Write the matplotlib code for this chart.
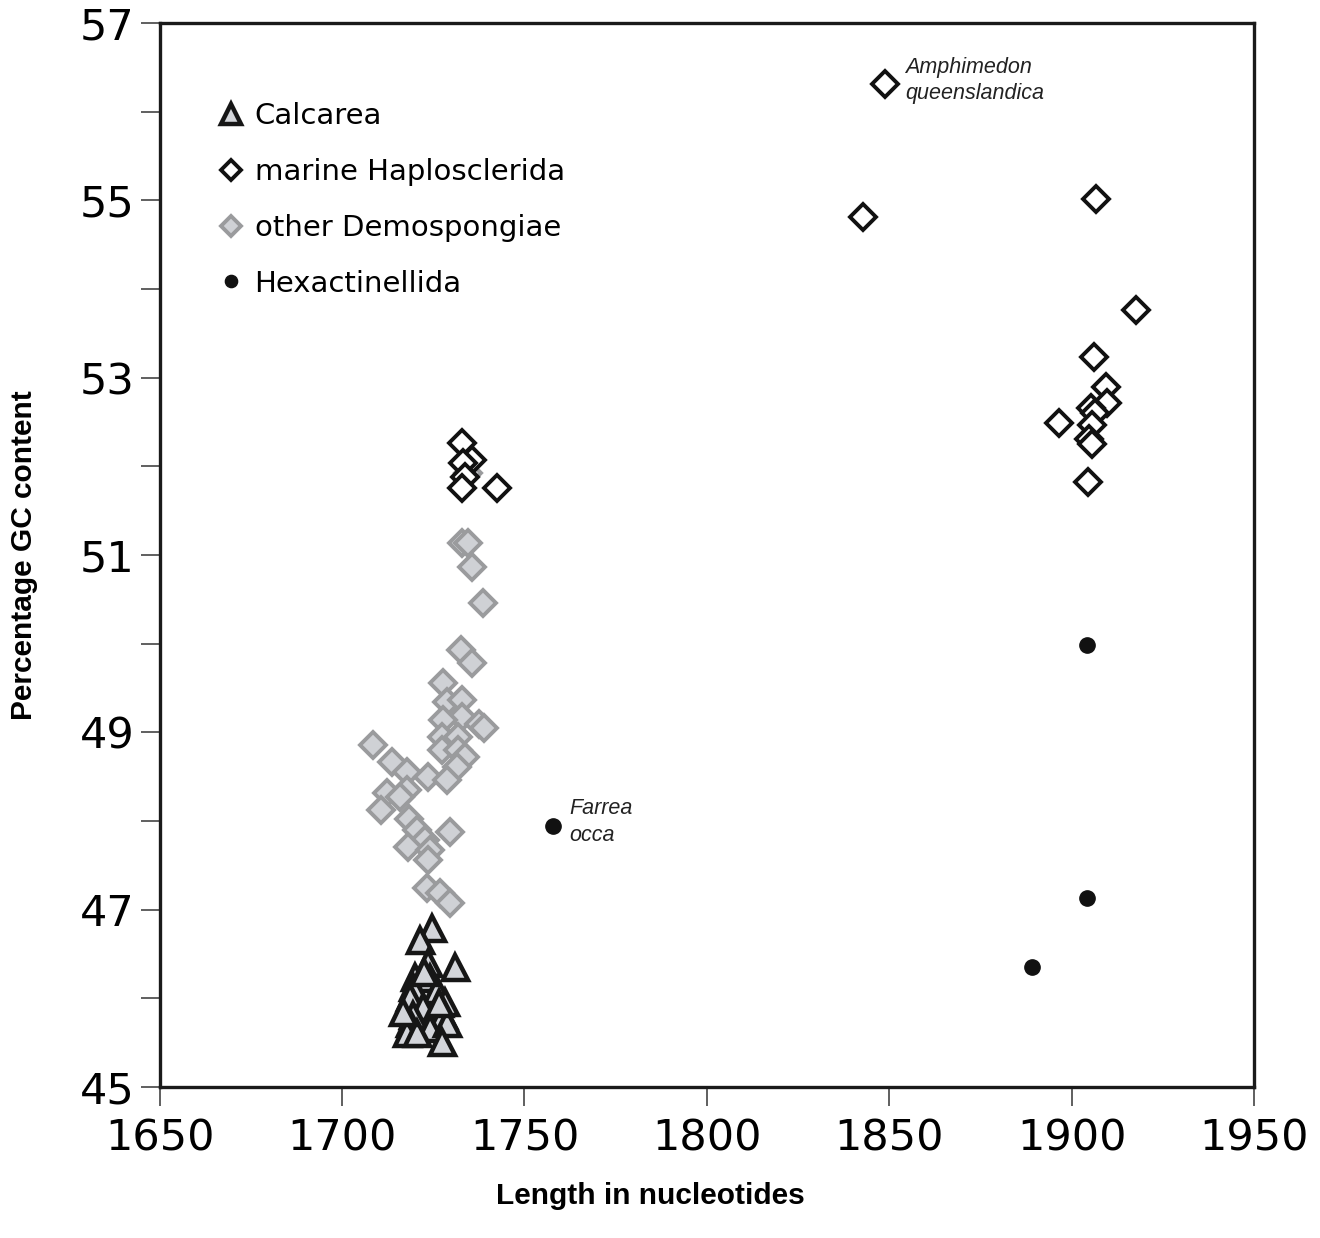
import matplotlib.pyplot as plt
import numpy as np

# Calcarea (triangles)
calc_x = [1724.6, 1721.3, 1730.9, 1723.5, 1720.0, 1724.0, 1719.4, 1726.0, 1718.6, 1728.1,
          1722.1, 1719.5, 1727.6, 1718.6, 1724.0, 1728.7, 1717.7, 1720.5, 1727.3, 1722.5,
          1716.8, 1726.5]
calc_y = [46.79, 46.66, 46.35, 46.40, 46.24, 46.23, 46.13, 46.09, 46.01, 45.96,
          45.90, 45.81, 45.81, 45.72, 45.67, 45.72, 45.61, 45.61, 45.51, 46.30,
          45.85, 45.95]

# marine Haplosclerida (open black diamonds)
hap_x = [1848.8, 1842.8, 1906.6, 1917.6, 1906.1, 1909.4, 1909.7, 1905.3, 1906.5, 1896.5,
         1905.5, 1904.8, 1905.5, 1904.5,
         1732.8, 1735.6, 1733.1, 1733.6, 1732.8, 1742.4]
hap_y = [56.31, 54.81, 55.01, 53.76, 53.23, 52.89, 52.71, 52.66, 52.60, 52.49,
         52.47, 52.31, 52.25, 51.82,
         52.26, 52.07, 52.04, 51.88, 51.76, 51.76]

# other Demospongiae (grey diamonds)
dem_x = [1734.5, 1732.8, 1734.5, 1735.6, 1738.6, 1732.5, 1735.6, 1727.6, 1728.7, 1732.8,
         1732.8, 1727.6, 1737.5, 1739.0, 1727.3, 1731.7, 1727.3, 1731.7, 1733.6, 1731.4,
         1708.4, 1713.6, 1717.7, 1723.5, 1728.7, 1717.7, 1712.2, 1715.8, 1710.6, 1718.3,
         1720.5, 1729.5, 1722.7, 1718.1, 1724.0, 1723.5, 1723.2, 1726.8, 1729.5]
dem_y = [51.92, 51.13, 51.13, 50.86, 50.46, 49.93, 49.78, 49.56, 49.34, 49.36,
         49.17, 49.14, 49.09, 49.05, 48.95, 48.95, 48.80, 48.80, 48.72, 48.61,
         48.86, 48.67, 48.55, 48.50, 48.46, 48.35, 48.32, 48.27, 48.12, 48.02,
         47.90, 47.88, 47.79, 47.71, 47.67, 47.56, 47.24, 47.19, 47.08]

# Hexactinellida (black dots)
hex_x = [1757.8, 1904.2, 1904.2, 1889.1]
hex_y = [47.94, 49.98, 47.13, 46.35]

fig = plt.figure(figsize=(13.2, 12.38), dpi=100)
ax = fig.add_axes([0.121, 0.122, 0.829, 0.8594])

ax.plot(dem_x, dem_y, 'D', ms=13, mfc='#cfd1d5', mec='#9a9b9d', mew=2.8, ls='none',
        label='other Demospongiae', zorder=2)
ax.plot(calc_x, calc_y, '^', ms=18, mfc='#d3d5da', mec='#161616', mew=3.2, ls='none',
        label='Calcarea', zorder=3)
ax.plot(hap_x, hap_y, 'D', ms=13, mfc='white', mec='#111111', mew=2.8, ls='none',
        label='marine Haplosclerida', zorder=4)
ax.plot(hex_x, hex_y, 'o', ms=11, mfc='#111111', mec='#111111', ls='none',
        label='Hexactinellida', zorder=5)

ax.text(1854.3, 56.62, 'Amphimedon\nqueenslandica', style='italic', fontsize=15.5,
        family='Liberation Sans', color='#222222', va='top', linespacing=1.35)
ax.text(1762.4, 48.26, 'Farrea\nocca', style='italic', fontsize=15.5,
        family='Liberation Sans', color='#222222', va='top', linespacing=1.35)

h, l = ax.get_legend_handles_labels()
order = [1, 2, 0, 3]
ax.legend([h[i] for i in order], [l[i] for i in order], loc='upper left',
          bbox_to_anchor=(0.028, 0.95), frameon=False, fontsize=21,
          handletextpad=0.3, labelspacing=0.95, markerscale=0.8, handlelength=1.0)

ax.set_xlim(1650, 1950)
ax.set_ylim(45, 57)
ax.set_xticks(np.arange(1650, 1951, 50))
ax.set_yticks(np.arange(45, 58, 2))
ax.set_yticks(np.arange(46, 57, 2), minor=True)
ax.tick_params(axis='both', which='both', direction='out', length=14, width=1.2,
               labelsize=31, color='#444444')
ax.tick_params(axis='x', pad=8)
ax.tick_params(axis='y', pad=4)
for s in ax.spines.values():
    s.set_linewidth(2.4)
    s.set_color('#1a1a1a')

ax.set_xlabel('Length in nucleotides', fontsize=21.5, fontweight='bold',
              family='Liberation Sans')
ax.set_ylabel('Percentage GC content', fontsize=21.5, fontweight='bold',
              family='Liberation Sans')
ax.xaxis.set_label_coords(0.448, -0.089)
ax.yaxis.set_label_coords(-0.111, 0.5)

fig.savefig('out.png', dpi=100)
